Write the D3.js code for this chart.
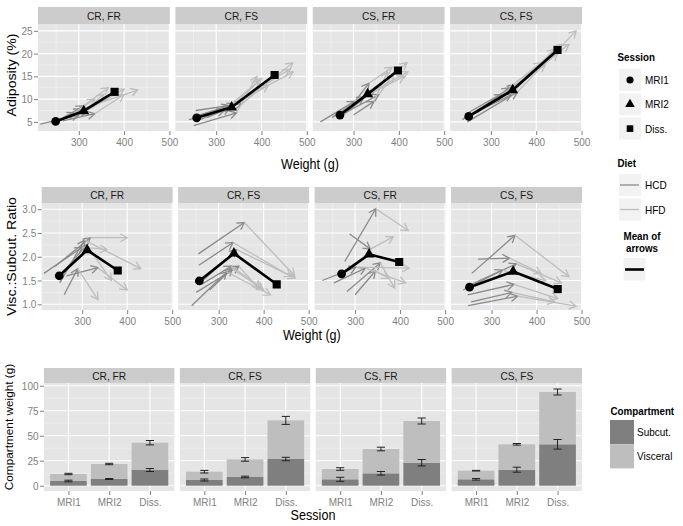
<!DOCTYPE html>
<html><head><meta charset="utf-8">
<script src="https://cdn.jsdelivr.net/npm/d3@7"></script>
<style>body{margin:0;background:#fff}svg{display:block;font-family:"Liberation Sans",Arial,Helvetica,sans-serif}</style>
</head><body><svg id="c" width="683" height="526" font-family="Liberation Sans, Arial, sans-serif"></svg>
<script>
// ---------------- DATA ----------------
const panels = ["CR, FR", "CR, FS", "CS, FR", "CS, FS"];
const sessions = ["MRI1", "MRI2", "Diss."];
const diets = ["HCD", "HFD"];
const compartments = ["Subcut.", "Visceral"];
const weightTicks = [300, 400, 500];
const adiposityTicks = [5, 10, 15, 20, 25];
const ratioTicks = [1.0, 1.5, 2.0, 2.5, 3.0];
const compTicks = [0, 25, 50, 75, 100];

// individual animals: [MRI1, MRI2, Diss.]
const weightCRFR = [[215,300,355],[240,318,400],[260,290,335],[250,305,430],[265,335,400],[255,310,365]];
const adiposityCRFR = [[4.5,6.5,11.0],[5.0,7.5,12.2],[5.5,7.0,10.0],[4.8,7.8,12.0],[5.2,6.8,11.0],[5.3,8.5,12.5]];
const ratioCRFR = [[1.65,2.20,2.15],[1.80,2.40,2.40],[1.20,1.75,1.10],[1.45,2.35,1.75],[1.60,1.77,1.30],[1.65,2.25,1.50]];

const weightCRFS = [[255,357,469],[256,332,462],[250,345,390],[240,318,415],[262,328,395],[265,340,470],[280,330,400]];
const adiposityCRFS = [[7.5,9.0,18.0],[6.0,8.5,16.5],[4.2,7.0,15.0],[5.5,7.5,13.0],[6.5,8.5,14.0],[5.5,9.0,16.0],[6.0,8.0,14.5]];
const ratioCRFS = [[2.06,2.72,1.60],[1.82,2.30,1.58],[1.25,1.80,1.32],[0.97,1.68,1.20],[1.42,1.80,1.35],[1.50,2.15,1.55],[1.30,1.75,1.30]];

const weightCSFR = [[277,346,418],[288,334,385],[227,302,420],[253,323,412],[282,356,388],[300,345,375]];
const adiposityCSFR = [[6.5,12.0,18.0],[7.5,13.5,17.0],[5.0,9.5,16.0],[6.0,10.5,15.0],[7.0,11.0,15.5],[6.5,9.5,16.0]];
const ratioCSFR = [[1.90,3.01,2.55],[2.48,2.16,2.42],[1.50,1.78,1.76],[1.45,1.76,1.45],[1.27,1.87,1.34],[1.20,1.70,1.55]];

const weightCSFS = [[256,352,472],[270,340,410],[237,324,420],[248,358,488],[247,350,447],[255,345,440],[250,355,455]];
const adiposityCSFS = [[6.5,13.0,22.0],[7.0,12.5,18.0],[5.5,11.0,17.5],[5.0,11.5,25.0],[6.0,12.0,20.0],[6.5,11.0,21.0],[7.0,13.0,22.0]];
const ratioCSFS = [[1.65,2.45,1.58],[1.95,1.97,1.65],[1.30,1.72,1.50],[0.97,1.17,0.96],[1.20,1.42,1.12],[1.05,1.25,1.05],[1.40,1.85,1.45]];

// mean of arrows per panel
const meanWeight = [[249,311,379],[257,334,429],[270,331,398],[251,348,447]];
const meanAdiposity = [[5.1,7.4,11.6],[5.9,8.2,15.3],[6.5,11.1,16.3],[6.2,12.0,20.8]];
const meanRatio = [[1.60,2.14,1.71],[1.49,2.07,1.42],[1.64,2.05,1.89],[1.36,1.69,1.32]];

// compartment weights (stacked) and error half-widths
const subcutMean = [[4.7,6.7,15.7],[5.7,8.7,26.7],[6.4,12.4,23.0],[6.4,16.0,41.4]];
const visceralMean = [[7.0,15.0,27.3],[8.3,17.6,38.6],[10.3,24.3,41.7],[8.6,25.4,52.3]];
const subcutErr = [[0.8,0.5,1.5],[1.0,0.8,1.7],[2.0,1.8,3.2],[0.8,2.5,4.8]];
const visceralErr = [[0.7,0.7,2.2],[1.3,1.8,4.0],[1.3,1.8,3.0],[0.3,0.8,3.0]];

const animalWeights = [weightCRFR, weightCRFS, weightCSFR, weightCSFS];
const animalAdiposity = [adiposityCRFR, adiposityCRFS, adiposityCSFR, adiposityCSFS];
const animalRatio = [ratioCRFR, ratioCRFS, ratioCSFR, ratioCSFS];

// ---------------- STYLE ----------------
const SY = 1.12;
const RIGHT = 582, GAP = 5.5;
const PANEL_BG = "#E5E5E5", MINOR = "#F2F2F2", STRIP_BG = "#CCCCCC", AXIS_TXT = "#7F7F7F";
const HCD_COL = "#8A8A8A", HFD_COL = "#BDBDBD";
const SUB_COL = "#7F7F7F", VIS_COL = "#BEBEBE";
const FONT = "Liberation Sans, Arial, sans-serif";
const TICK_FS = 10, STRIP_FS = 10.2, TITLE_FS = 12.6, LEG_FS = 10, LEGT_FS = 9.8;

const svg = d3.select("#c");

function txt(g, x, y, s, o = {}) {
  const sc = o.noStretch ? 1 : SY;
  return g.append("text")
    .attr("transform", o.rotate ? `translate(${x},${y}) rotate(-90) scale(${sc},1)` : `translate(${x},${y}) scale(1,${sc})`)
    .attr("text-anchor", o.anchor || "start")
    .attr("font-family", FONT)
    .attr("font-size", o.size || 10)
    .attr("fill", o.color || "#000")
    .attr("font-weight", o.weight || "normal")
    .text(s);
}

function minorOf(ticks, domain) {
  const step = ticks[1] - ticks[0];
  const out = [];
  for (let i = -1; i < ticks.length; i++) {
    const m = ticks[0] + step * (i + 0.5);
    if (m > domain[0] && m < domain[1]) out.push(m);
  }
  return out;
}

const defs = svg.append("defs");
[["HCD", HCD_COL], ["HFD", HFD_COL]].forEach(([k, c]) => {
  defs.append("marker").attr("id", "arr" + k)
    .attr("viewBox", "-10 -6 12 12").attr("markerWidth", 12).attr("markerHeight", 12)
    .attr("refX", 0).attr("refY", 0).attr("orient", "auto").attr("markerUnits", "userSpaceOnUse")
    .style("overflow", "visible")
    .append("path").attr("d", "M-7,-4L0,0L-7,4").attr("fill", "none")
    .attr("stroke", c).attr("stroke-width", 1.3);
});

function panelGeom(left, i) {
  const w = (RIGHT - left - 3 * GAP) / 4;
  return { x0: left + i * (w + GAP), w };
}

function drawStrip(g, x0, w, top, bottom, label) {
  g.append("rect").attr("x", x0).attr("y", top).attr("width", w).attr("height", bottom - top).attr("fill", STRIP_BG);
  const cy = (top + bottom) / 2;
  txt(g, x0 + w / 2, cy + 0.36 * STRIP_FS * SY, label, { anchor: "middle", size: STRIP_FS, color: "#1A1A1A" });
}

function styleAxis(ax) {
  ax.attr("font-family", FONT);
  ax.select(".domain").remove();
  ax.selectAll(".tick line").attr("stroke", AXIS_TXT).attr("stroke-width", 1);
  ax.selectAll(".tick text").attr("fill", AXIS_TXT).attr("font-size", TICK_FS)
    .attr("font-family", FONT)
    .attr("transform", `scale(1,${SY})`);
}

// ---------------- SCATTER ROWS ----------------
const scatterRows = [
  { vals: animalAdiposity, means: meanAdiposity, stripTop: 7, top: 24, bottom: 131, left: 38,
    domain: [3, 26.5], ticks: adiposityTicks, fmt: d3.format("d"), title: "Adiposity (%)", titleY: 75, titleX: 16, xTitleY: 169 },
  { vals: animalRatio, means: meanRatio, stripTop: 187, top: 203, bottom: 310, left: 41.7,
    domain: [0.88, 3.13], ticks: ratioTicks, fmt: d3.format(".1f"), title: "Visc.:Subcut. Ratio", titleY: 256.5, titleX: 16, xTitleY: 340 }
];
const xDomain = [210, 501];

scatterRows.forEach((row, ri) => {
  const y = d3.scaleLinear().domain(row.domain).range([row.bottom, row.top]);
  panels.forEach((p, pi) => {
    const { x0, w } = panelGeom(row.left, pi);
    const x = d3.scaleLinear().domain(xDomain).range([x0, x0 + w]);
    const g = svg.append("g");
    drawStrip(g, x0, w, row.stripTop, row.top, p);
    g.append("rect").attr("x", x0).attr("y", row.top).attr("width", w).attr("height", row.bottom - row.top).attr("fill", PANEL_BG);
    const clipId = `clip${ri}_${pi}`;
    defs.append("clipPath").attr("id", clipId).append("rect").attr("x", x0).attr("y", row.top).attr("width", w).attr("height", row.bottom - row.top);
    const grid = g.append("g").attr("clip-path", `url(#${clipId})`);
    minorOf(row.ticks, row.domain).forEach(v => grid.append("line").attr("x1", x0).attr("x2", x0 + w).attr("y1", y(v)).attr("y2", y(v)).attr("stroke", MINOR).attr("stroke-width", 0.6));
    minorOf(weightTicks, xDomain).forEach(v => grid.append("line").attr("x1", x(v)).attr("x2", x(v)).attr("y1", row.top).attr("y2", row.bottom).attr("stroke", MINOR).attr("stroke-width", 0.6));
    row.ticks.forEach(v => grid.append("line").attr("x1", x0).attr("x2", x0 + w).attr("y1", y(v)).attr("y2", y(v)).attr("stroke", "#fff").attr("stroke-width", 1.1));
    weightTicks.forEach(v => grid.append("line").attr("x1", x(v)).attr("x2", x(v)).attr("y1", row.top).attr("y2", row.bottom).attr("stroke", "#fff").attr("stroke-width", 1.1));

    const data = g.append("g").attr("clip-path", `url(#${clipId})`);
    const W = animalWeights[pi], V = row.vals[pi];
    // HCD: MRI1 -> MRI2 ; HFD: MRI2 -> Diss.
    W.forEach((wt, ai) => {
      data.append("line").attr("x1", x(wt[0])).attr("y1", y(V[ai][0])).attr("x2", x(wt[1])).attr("y2", y(V[ai][1]))
        .attr("stroke", HCD_COL).attr("stroke-width", 1.3).attr("marker-end", "url(#arrHCD)");
    });
    W.forEach((wt, ai) => {
      data.append("line").attr("x1", x(wt[1])).attr("y1", y(V[ai][1])).attr("x2", x(wt[2])).attr("y2", y(V[ai][2]))
        .attr("stroke", HFD_COL).attr("stroke-width", 1.3).attr("marker-end", "url(#arrHFD)");
    });
    const mw = meanWeight[pi], mv = row.means[pi];
    const pts = sessions.map((s, si) => [x(mw[si]), y(mv[si])]);
    data.append("path").attr("d", d3.line()(pts)).attr("fill", "none").attr("stroke", "#000").attr("stroke-width", 2.6).attr("stroke-linejoin", "round");
    data.append("path").attr("d", d3.symbol(d3.symbolCircle, 60)()).attr("transform", `translate(${pts[0]})`).attr("fill", "#000");
    data.append("path").attr("d", d3.symbol(d3.symbolTriangle, 52)()).attr("transform", `translate(${pts[1]})`).attr("fill", "#000");
    data.append("path").attr("d", d3.symbol(d3.symbolSquare, 66)()).attr("transform", `translate(${pts[2]})`).attr("fill", "#000");

    // axes
    const ax = g.append("g").attr("transform", `translate(0,${row.bottom})`)
      .call(d3.axisBottom(x).tickValues(weightTicks).tickSize(4).tickPadding(2.5));
    styleAxis(ax);
    if (pi === 0) {
      const ay = g.append("g").attr("transform", `translate(${x0},0)`)
        .call(d3.axisLeft(y).tickValues(row.ticks).tickFormat(row.fmt).tickSize(4).tickPadding(1.5));
      styleAxis(ay);
    }
  });
  txt(svg, row.titleX, row.titleY, row.title, { rotate: true, anchor: "middle", size: TITLE_FS });
  txt(svg, (row.left + RIGHT) / 2, row.xTitleY, "Weight (g)", { anchor: "middle", size: TITLE_FS });
});

// ---------------- BAR ROW ----------------
const barRow = { stripTop: 368, top: 383, bottom: 491, left: 44, domain: [-5.3, 102.7] };
const yb = d3.scaleLinear().domain(barRow.domain).range([barRow.bottom, barRow.top]);
panels.forEach((p, pi) => {
  const { x0, w } = panelGeom(barRow.left, pi);
  const u = w / 3.2;
  const x = d3.scalePoint().domain(sessions).range([x0 + 0.6 * u, x0 + w - 0.6 * u]);
  const bw = 0.9 * u, cw = 0.2 * u;
  const g = svg.append("g");
  drawStrip(g, x0, w, barRow.stripTop, barRow.top, p);
  g.append("rect").attr("x", x0).attr("y", barRow.top).attr("width", w).attr("height", barRow.bottom - barRow.top).attr("fill", PANEL_BG);
  minorOf(compTicks, barRow.domain).forEach(v => g.append("line").attr("x1", x0).attr("x2", x0 + w).attr("y1", yb(v)).attr("y2", yb(v)).attr("stroke", MINOR).attr("stroke-width", 0.6));
  compTicks.forEach(v => g.append("line").attr("x1", x0).attr("x2", x0 + w).attr("y1", yb(v)).attr("y2", yb(v)).attr("stroke", "#fff").attr("stroke-width", 1.1));
  sessions.forEach(s => g.append("line").attr("x1", x(s)).attr("x2", x(s)).attr("y1", barRow.top).attr("y2", barRow.bottom).attr("stroke", "#fff").attr("stroke-width", 1.1));

  sessions.forEach((s, si) => {
    const sub = subcutMean[pi][si], vis = visceralMean[pi][si];
    g.append("rect").attr("x", x(s) - bw / 2).attr("width", bw).attr("y", yb(sub)).attr("height", yb(0) - yb(sub)).attr("fill", SUB_COL);
    g.append("rect").attr("x", x(s) - bw / 2).attr("width", bw).attr("y", yb(sub + vis)).attr("height", yb(sub) - yb(sub + vis)).attr("fill", VIS_COL);
    [[sub, subcutErr[pi][si]], [sub + vis, visceralErr[pi][si]]].forEach(([c, e]) => {
      const eg = g.append("g").attr("stroke", "#222").attr("stroke-width", 1).attr("fill", "none");
      eg.append("line").attr("x1", x(s)).attr("x2", x(s)).attr("y1", yb(c - e)).attr("y2", yb(c + e));
      eg.append("line").attr("x1", x(s) - cw / 2).attr("x2", x(s) + cw / 2).attr("y1", yb(c - e)).attr("y2", yb(c - e));
      eg.append("line").attr("x1", x(s) - cw / 2).attr("x2", x(s) + cw / 2).attr("y1", yb(c + e)).attr("y2", yb(c + e));
    });
  });
  const ax = g.append("g").attr("transform", `translate(0,${barRow.bottom})`)
    .call(d3.axisBottom(x).tickSize(4).tickPadding(2));
  styleAxis(ax);
  if (pi === 0) {
    const ay = g.append("g").attr("transform", `translate(${x0},0)`)
      .call(d3.axisLeft(yb).tickValues(compTicks).tickFormat(d3.format("d")).tickSize(4).tickPadding(1.5));
    styleAxis(ay);
  }
});
txt(svg, 13, 427, "Compartment weight (g)", { rotate: true, anchor: "middle", size: 11.8, noStretch: true });
txt(svg, (barRow.left + RIGHT) / 2, 520, "Session", { anchor: "middle", size: TITLE_FS });

// ---------------- LEGENDS ----------------
const L = svg.append("g");
const KEY_BG = "#F2F2F2";
txt(L, 617.5, 61, "Session", { size: LEGT_FS, weight: "bold" });
const symTypes = [d3.symbolCircle, d3.symbolTriangle, d3.symbolSquare];
const symSizes = [40, 40, 44];
sessions.forEach((s, i) => {
  const ky = 69 + i * 24.3;
  L.append("rect").attr("x", 619).attr("y", ky).attr("width", 22).attr("height", 22).attr("fill", KEY_BG);
  L.append("path").attr("d", d3.symbol(symTypes[i], symSizes[i])()).attr("transform", `translate(630,${ky + 11})`).attr("fill", "#000");
  txt(L, 645, ky + 11 + 0.36 * LEG_FS * SY, s, { size: LEG_FS });
});
txt(L, 617.5, 166.5, "Diet", { size: LEGT_FS, weight: "bold" });
[HCD_COL, HFD_COL].forEach((c, i) => {
  const ky = 174 + i * 24.5;
  L.append("rect").attr("x", 619).attr("y", ky).attr("width", 22).attr("height", 22).attr("fill", KEY_BG);
  L.append("line").attr("x1", 620).attr("x2", 639).attr("y1", ky + 11).attr("y2", ky + 11).attr("stroke", c).attr("stroke-width", 1.3);
  txt(L, 645, ky + 11 + 0.36 * LEG_FS * SY, diets[i], { size: LEG_FS });
});
txt(L, 642, 240, "Mean of", { size: LEGT_FS, weight: "bold", anchor: "middle" });
txt(L, 642, 251.5, "arrows", { size: LEGT_FS, weight: "bold", anchor: "middle" });
L.append("rect").attr("x", 623.5).attr("y", 258).attr("width", 22).attr("height", 22.5).attr("fill", KEY_BG);
L.append("line").attr("x1", 625).attr("x2", 644).attr("y1", 269.5).attr("y2", 269.5).attr("stroke", "#000").attr("stroke-width", 2.6);

txt(L, 610.5, 415, "Compartment", { size: LEGT_FS, weight: "bold" });
[SUB_COL, VIS_COL].forEach((c, i) => {
  const ky = 420 + i * 24.2;
  L.append("rect").attr("x", 610).attr("y", ky).attr("width", 24).attr("height", 24.2).attr("fill", c);
  txt(L, 637, ky + 12 + 0.36 * LEG_FS * SY, compartments[i], { size: LEG_FS });
});
</script></body></html>
